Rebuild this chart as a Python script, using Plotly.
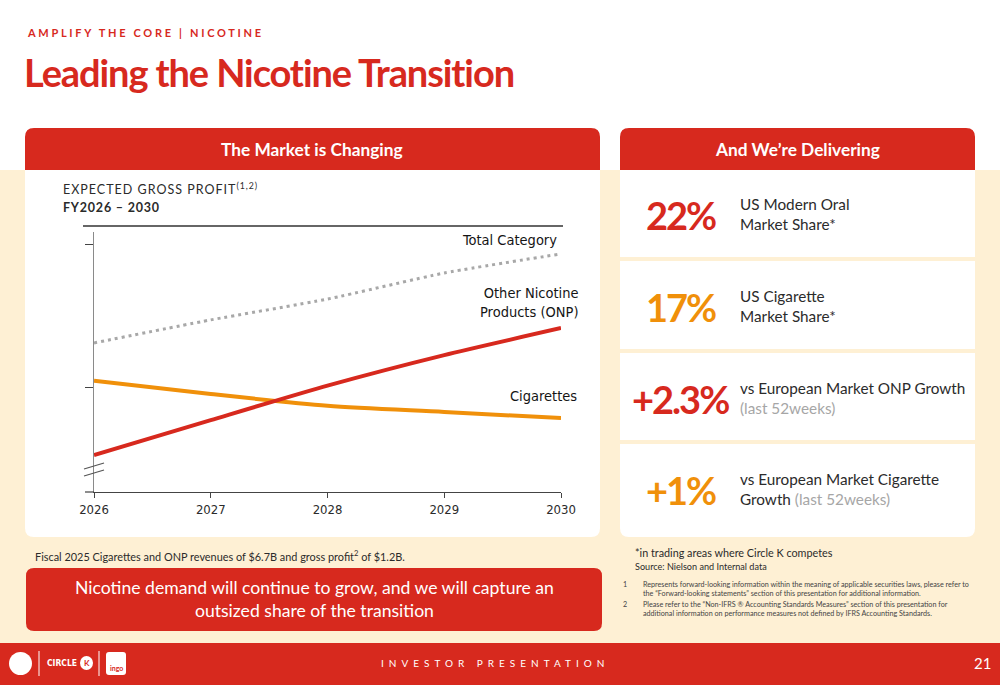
import plotly.graph_objects as go

# ---------------- data ----------------
years = [2026, 2027, 2028, 2029, 2030]
total_category = [60.1, 69.4, 77.8, 88.3, 96.0]
onp = [14.9, 29.0, 42.9, 55.2, 66.1]
cigarettes = [44.9, 39.5, 34.8, 32.3, 29.8]
year_labels = ["2026", "2027", "2028", "2029", "2030"]
y_ticks = [42.3, 100]

RED = "#D7291E"
ORANGE = "#F0900A"
CREAM = "#FEF0D4"
DARK = "#2b2b2b"
BODY = "Lato, 'Open Sans', sans-serif"
COND = "'DejaVu Sans Condensed', Lato, sans-serif"

W, H = 1000, 685
def X(p): return p / W
def Y(p): return 1 - p / H

def rrect(x0, y0, x1, y1, r_tl=0, r_tr=0, r_br=0, r_bl=0):
    def pt(x, y): return f"{X(x)},{Y(y)}"
    d = f"M {pt(x0 + r_tl, y0)} L {pt(x1 - r_tr, y0)} "
    d += f"Q {pt(x1, y0)} {pt(x1, y0 + r_tr)} " if r_tr else ""
    d += f"L {pt(x1, y1 - r_br)} "
    d += f"Q {pt(x1, y1)} {pt(x1 - r_br, y1)} " if r_br else ""
    d += f"L {pt(x0 + r_bl, y1)} "
    d += f"Q {pt(x0, y1)} {pt(x0, y1 - r_bl)} " if r_bl else ""
    d += f"L {pt(x0, y0 + r_tl)} "
    d += f"Q {pt(x0, y0)} {pt(x0 + r_tl, y0)} " if r_tl else ""
    return d + "Z"

shapes = []
def add_path(d, fill, layer="below"):
    shapes.append(dict(type="path", path=d, xref="paper", yref="paper",
                       fillcolor=fill, line=dict(width=0), layer=layer))

def add_line(x0, y0, x1, y1, color, width, layer="above"):
    shapes.append(dict(type="line", xref="paper", yref="paper",
                       x0=X(x0), y0=Y(y0), x1=X(x1), y1=Y(y1),
                       line=dict(color=color, width=width), layer=layer))

# backgrounds
add_path(rrect(0, 170, 1000, 643), CREAM)
# left card
add_path(rrect(25, 128, 600, 537, 9, 9, 9, 9), "white")
add_path(rrect(25, 128, 600, 170, 9, 9, 0, 0), RED)
# right card
add_path(rrect(620, 128, 975, 170, 9, 9, 0, 0), RED)
add_path(rrect(620, 170, 975, 257), "white")
add_path(rrect(620, 261, 975, 349), "white")
add_path(rrect(620, 353, 975, 440), "white")
add_path(rrect(620, 444, 975, 537, 0, 0, 9, 9), "white")
# callout
add_path(rrect(26, 568, 602, 631, 8, 8, 8, 8), RED)
# footer
add_path(rrect(0, 643, 1000, 685), RED)

# chart decorations
add_line(83, 226, 563, 226, "#333333", 1.5)
add_line(84, 469, 104, 463, "#555555", 1.2)
add_line(84, 476, 104, 470, "#555555", 1.2)
add_line(85, 492, 94, 492, "#444444", 1.2)

# footer logo approximations
shapes.append(dict(type="circle", xref="paper", yref="paper",
                   x0=X(9), x1=X(32), y0=Y(675), y1=Y(652), fillcolor="white",
                   line=dict(width=0), layer="above"))
add_line(39, 651, 39, 676, "white", 1)
shapes.append(dict(type="circle", xref="paper", yref="paper",
                   x0=X(80), x1=X(93), y0=Y(670), y1=Y(656), fillcolor="white",
                   line=dict(width=0), layer="above"))
add_line(99, 651, 99, 676, "white", 1)
add_path(rrect(106, 652, 126, 675, 3, 3, 3, 3), "white", layer="above")

annotations = []
def txt(x, y, s, size, color=DARK, family=BODY, xanchor="left", yanchor="middle"):
    annotations.append(dict(x=X(x), y=Y(y), xref="paper", yref="paper", text=s,
                            showarrow=False, xanchor=xanchor, yanchor=yanchor,
                            align=xanchor if xanchor != "middle" else "center",
                            font=dict(size=size, color=color, family=family)))

# header texts
txt(25, 33, "<b>AMPLIFY THE CORE | NICOTINE</b>", 11, RED)
txt(22, 72, "<b>Leading the Nicotine Transition</b>", 38, RED, BODY)
txt(312, 149, "<b>The Market is Changing</b>", 17.3, "white", BODY, "center")
txt(797, 149, "<b>And We’re Delivering</b>", 17.3, "white", BODY, "center")

# chart title
txt(61, 189, "EXPECTED GROSS PROFIT<sup>(1,2)</sup>", 12.5, DARK)
txt(61, 207, "<b>FY2026 – 2030</b>", 12.5, DARK)

# series labels
LBL = "#151515"
txt(559, 240, "Total Category", 14.5, LBL, COND, "right")
txt(580, 303, "Other Nicotine<br>Products (ONP)", 14.5, LBL, COND, "right")
txt(579, 396, "Cigarettes", 14.5, LBL, COND, "right")

# right panel stats
stats = [
    (215, "22%", RED, "US Modern Oral<br>Market Share*"),
    (307, "17%", ORANGE, "US Cigarette<br>Market Share*"),
    (399, "+2.3%", RED, "vs European Market ONP Growth<br><span style='color:#a6a6a6'>(last 52weeks)</span>"),
    (490, "+1%", ORANGE, "vs European Market Cigarette<br>Growth <span style='color:#a6a6a6'>(last 52weeks)</span>"),
]
for yy, big, col, lab in stats:
    txt(680, yy, f"<b>{big}</b>", 38, col, BODY, "center")
    txt(738, yy - 1, lab, 15.3, DARK)

# notes
txt(33, 555, "Fiscal 2025 Cigarettes and ONP revenues of $6.7B and gross profit<sup>2</sup> of $1.2B.", 10.9, DARK)
txt(314, 599, "Nicotine demand will continue to grow, and we will capture an<br>outsized share of the transition", 17.6, "white", BODY, "center")
txt(633, 552, "*in trading areas where Circle K competes", 10.8, DARK)
txt(633, 566, "Source: Nielson and Internal data", 9.1, DARK)
txt(621, 584, "1", 7.2, "#444444")
txt(621, 604, "2", 7.2, "#444444")
txt(641, 589, "Represents forward-looking information within the meaning of applicable securities laws, please refer to<br>the “Forward-looking statements” section of this presentation for additional information.", 7.2, "#444444")
txt(641, 609, "Please refer to the “Non-IFRS ® Accounting Standards Measures” section of this presentation for<br>additional information on performance measures not defined by IFRS Accounting Standards.", 7.2, "#444444")

# footer
txt(379, 663, "INVESTOR PRESENTATION", 10, "white")
txt(993, 663, "21", 15, "white", BODY, "right")
txt(45, 663, "<b>CIRCLE</b>", 8.5, "white", COND)
txt(86.5, 663, "<b>K</b>", 8, RED, BODY, "center")
txt(116, 668, "<b>ingo</b>", 7, RED, BODY, "center")

fig = go.Figure()
fig.add_trace(go.Scatter(x=years, y=total_category, mode="lines", name="Total Category",
                         line=dict(color="#a8a8a8", width=3, dash="3px,4px", shape="spline", smoothing=0.6)))
fig.add_trace(go.Scatter(x=years, y=cigarettes, mode="lines", name="Cigarettes",
                         line=dict(color=ORANGE, width=4, shape="spline", smoothing=0.8)))
fig.add_trace(go.Scatter(x=years, y=onp, mode="lines", name="Other Nicotine Products (ONP)",
                         line=dict(color=RED, width=4, shape="spline", smoothing=0.6)))

ybot, ytop = 492, 232
yrange_top = (ybot - ytop) / 2.48

fig.update_layout(
    width=W, height=H, margin=dict(l=0, r=0, t=0, b=0, pad=0, autoexpand=False),
    paper_bgcolor="white", plot_bgcolor="rgba(0,0,0,0)",
    showlegend=False, shapes=shapes, annotations=annotations,
    xaxis=dict(domain=[X(94), X(561)], range=[2026, 2030], tickvals=years, ticktext=year_labels,
               showline=True, linecolor="#444444", linewidth=1.2, ticks="outside", ticklen=5,
               tickcolor="#444444", showgrid=False, zeroline=False, automargin=False,
               tickfont=dict(size=13, color=DARK, family=COND)),
    yaxis=dict(domain=[Y(ybot), Y(ytop)], range=[0, yrange_top], tickvals=y_ticks,
               showticklabels=False, showline=True, linecolor="#8a8a8a", linewidth=1.2,
               ticks="outside", ticklen=8, tickcolor="#444444", showgrid=False, zeroline=False,
               automargin=False),
)

post = """
var gd = document.getElementById('{plot_id}');
function ls(){
  var m = {'AMPLIFY':'2.7px','INVESTOR':'5px','EXPECTED':'1px','FY2026':'0.8px',
           'Leading':'-1.1px','22%':'-2px','17%':'-2px','+2.3%':'-2px','+1%':'-2px'};
  document.querySelectorAll('g.annotation text').forEach(function(t){
    var s = t.textContent;
    for (var k in m){ if (s.indexOf(k)===0){ t.style.letterSpacing = m[k]; } }
  });
}
ls();
if (gd && gd.on) { gd.on('plotly_afterplot', ls); }
"""

fig.write_html("out.html", post_script=post)
